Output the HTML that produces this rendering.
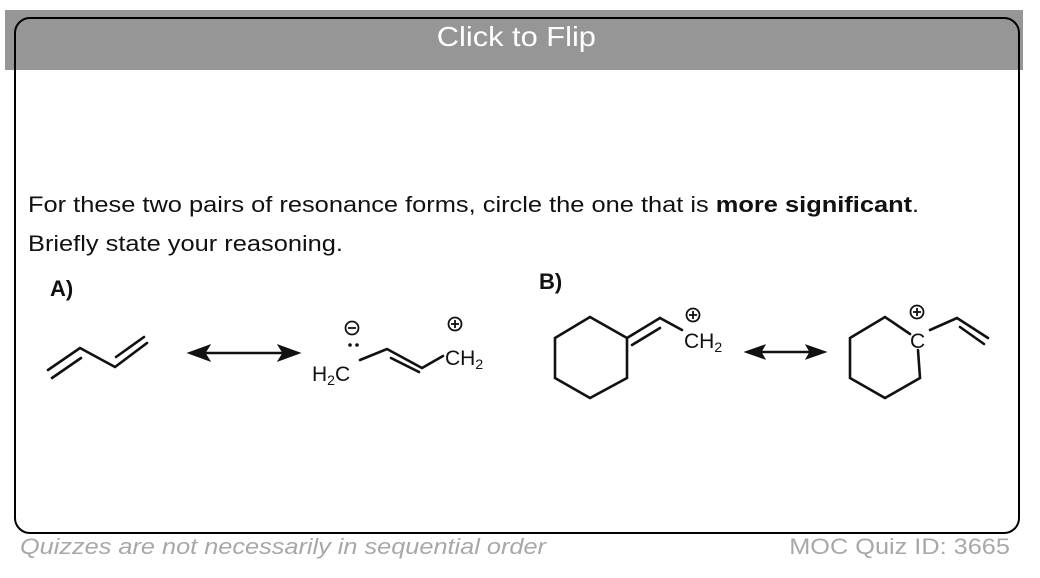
<!DOCTYPE html>
<html><head><meta charset="utf-8"><style>
body{margin:0;width:1040px;height:578px;background:#fff;position:relative;overflow:hidden;font-family:"Liberation Sans",sans-serif}
.bar{position:absolute;left:5px;top:10px;width:1018px;height:60px;background:#969696}
.box{position:absolute;left:14px;top:17px;width:1002px;height:513px;border:2.5px solid #000;border-radius:16px}
.title{position:absolute;left:0;width:1032px;top:21px;text-align:center;color:#fff;font-size:28px}
.title span{display:inline-block;transform:scaleX(1.1)}
.t{position:absolute;font-size:22px;color:#111;white-space:nowrap;transform-origin:0 0;transform:scaleX(1.155)}
.f{position:absolute;top:534px;font-size:22px;color:#a8a8a8;white-space:nowrap;transform:scaleX(1.15)}
svg{position:absolute;left:0;top:0}
</style></head><body>
<div class="bar"></div>
<div class="box"></div>
<div class="title"><span>Click to Flip</span></div>
<div class="t" style="left:28px;top:192px">For these two pairs of resonance forms, circle the one that is <b>more significant</b>.</div>
<div class="t" style="left:28px;top:231px">Briefly state your reasoning.</div>
<div class="f" style="left:20px;font-style:italic;transform-origin:0 0">Quizzes are not necessarily in sequential order</div>
<div class="f" style="right:30px;transform-origin:100% 0">MOC Quiz ID: 3665</div>
<svg width="1040" height="578" viewBox="0 0 1040 578" font-family="Liberation Sans, sans-serif">
<g stroke="#111" stroke-width="2.6" fill="none" stroke-linecap="round">
<polyline points="48,370 80,348 115,367 147,343"/>
<line x1="52" y1="378" x2="81" y2="358"/>
<line x1="116" y1="357" x2="144" y2="337"/>
<polyline points="360,360 387,349 422,368 443,356"/>
<line x1="391" y1="358" x2="419" y2="372"/>
<polygon points="590,317 627,338 627,378 590,398 555,378 555,338"/>
<line x1="627" y1="338" x2="660" y2="318"/>
<line x1="632" y1="345" x2="660" y2="328"/>
<line x1="660" y1="318" x2="682" y2="330"/>
<polyline points="910,334 885,317 850,338 850,378 885,398 920,378 918,350"/>
<polyline points="930,330 957,318 988,338"/>
<line x1="960" y1="327" x2="984" y2="344"/>
</g>
<g fill="#111" stroke="#111">
<line x1="200" y1="353" x2="288" y2="353" stroke-width="2.6"/>
<polygon points="188,353 210,345 205,353 210,361" />
<polygon points="300,353 278,345 283,353 278,361" />
<line x1="755" y1="352" x2="815" y2="352" stroke-width="2.6"/>
<polygon points="745,352 765,345 761,352 765,359"/>
<polygon points="826,352 806,345 810,352 806,359"/>
</g>
<g font-size="21" fill="#111">
<text x="312" y="381">H<tspan font-size="14" dy="4">2</tspan><tspan dy="-4">C</tspan></text>
<text x="445" y="365">CH<tspan font-size="14" dy="4">2</tspan></text>
<text x="684" y="348">CH<tspan font-size="14" dy="4">2</tspan></text>
<text x="910" y="348">C</text>
<text x="50" y="296" font-weight="bold" font-size="22">A)</text>
<text x="539" y="289" font-weight="bold" font-size="22">B)</text>
</g>
<circle cx="350" cy="345" r="1.8" fill="#111"/><circle cx="357" cy="345" r="1.8" fill="#111"/>
<g stroke="#111" stroke-width="1.8" fill="none">
<circle cx="352" cy="328" r="6.5"/><line x1="348" y1="328" x2="356" y2="328"/>
<circle cx="455" cy="324" r="6.5"/><line x1="451" y1="324" x2="459" y2="324"/><line x1="455" y1="320" x2="455" y2="328"/>
<circle cx="693" cy="315" r="6.5"/><line x1="689" y1="315" x2="697" y2="315"/><line x1="693" y1="311" x2="693" y2="319"/>
<circle cx="917" cy="312" r="6.5"/><line x1="913" y1="312" x2="921" y2="312"/><line x1="917" y1="308" x2="917" y2="316"/>
</g>
</svg>
</body></html>
